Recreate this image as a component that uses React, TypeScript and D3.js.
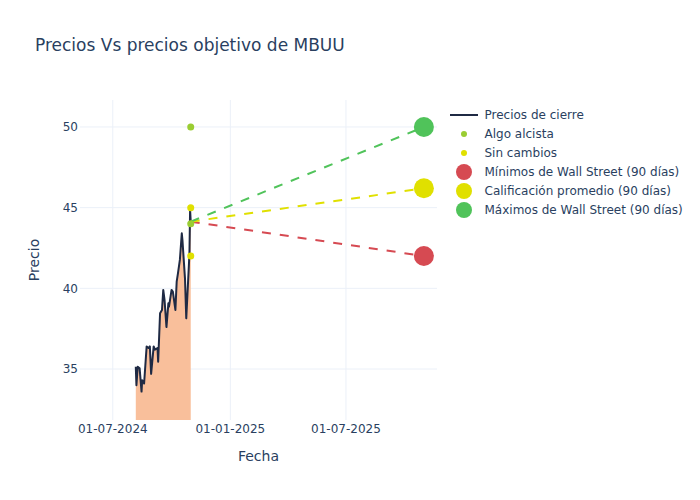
import React from "react";
import * as d3 from "d3";

const closeDates = [
  "2024-08-06", "2024-08-07", "2024-08-09", "2024-08-12", "2024-08-15", "2024-08-16",
  "2024-08-19", "2024-08-23", "2024-08-26", "2024-08-28", "2024-08-30", "2024-09-03",
  "2024-09-05", "2024-09-09", "2024-09-10", "2024-09-13", "2024-09-16", "2024-09-18",
  "2024-09-20", "2024-09-23", "2024-09-26", "2024-09-27", "2024-10-01", "2024-10-03",
  "2024-10-07", "2024-10-09", "2024-10-11", "2024-10-14", "2024-10-17", "2024-10-18",
  "2024-10-22", "2024-10-24", "2024-10-28", "2024-10-29", "2024-10-30", "2024-10-31",
];
const closePrices = [
  35.14, 34.0, 35.14, 35.04, 33.6, 34.3,
  34.1, 36.4, 36.3, 36.4, 34.7, 36.4,
  36.2, 36.3, 35.45, 38.45, 38.66, 39.9,
  39.28, 37.6, 39.07, 38.86, 39.9, 39.8,
  38.66, 40.41, 40.93, 41.76, 43.41, 43.0,
  40.62, 38.14, 41.34, 42.17, 44.86, 44.13,
];

const ratingDate = "2024-10-31";
const algoAlcista = [50, 44];
const sinCambios = [45, 42];

const targetDate = "2025-10-31";
const targetMin = 42;
const targetAvg = 46.2;
const targetMax = 50;

const yTicks = [35, 40, 45, 50];
const xTicks = ["2024-07-01", "2025-01-01", "2025-07-01"];

const legendLabels = [
  "Precios de cierre",
  "Algo alcista",
  "Sin cambios",
  "Mínimos de Wall Street (90 días)",
  "Calificación promedio (90 días)",
  "Máximos de Wall Street (90 días)",
];

const parse = (s: string) => {
  const [y, m, d] = s.split("-").map(Number);
  return new Date(y, m - 1, d);
};

const FONT = "'DejaVu Sans', sans-serif";
const TXT = "#2a3f5f";
const GRID = "#ebf0f8";
const LINE = "#1f2a44";
const FILL = "#f9bf9b";
const C_ALGO = "#9acd32";
const C_SIN = "#e0e000";
const C_RED = "#d64a52";
const C_YEL = "#e0e000";
const C_GRN = "#50c35a";

export default function App() {
  const W = 700, H = 500;
  const L = 80, R = 437, T = 100, B = 420;

  const x = d3
    .scaleTime()
    .domain([new Date(2024, 4, 10, 16), new Date(2025, 10, 20, 12)])
    .range([L, R]);
  const y = d3.scaleLinear().domain([31.84, 51.67]).range([B, T]);

  const pts = closeDates.map((d, i) => ({ d: parse(d), v: closePrices[i] }));
  const line = d3
    .line<{ d: Date; v: number }>()
    .x((p) => x(p.d))
    .y((p) => y(p.v));
  const area = d3
    .area<{ d: Date; v: number }>()
    .x((p) => x(p.d))
    .y0(B)
    .y1((p) => y(p.v));

  const last = pts[pts.length - 1];
  const rd = parse(ratingDate);
  const td = parse(targetDate);
  const targets = [
    { v: targetMin, c: C_RED },
    { v: targetAvg, c: C_YEL },
    { v: targetMax, c: C_GRN },
  ];

  const legendY = (i: number) => 115 + i * 19;

  return (
    <svg width={W} height={H} style={{ position: "absolute", left: 0, top: 0, background: "#fff" }} fontFamily={FONT}>
      <defs>
        <clipPath id="plot">
          <rect x={L} y={T} width={R - L} height={B - T} />
        </clipPath>
      </defs>
      <rect x={0} y={0} width={W} height={H} fill="#fff" />
      {/* grid */}
      {xTicks.map((t) => (
        <line key={t} x1={x(parse(t))} x2={x(parse(t))} y1={T} y2={B} stroke={GRID} strokeWidth={1} />
      ))}
      {yTicks.map((t) => (
        <line key={t} x1={L} x2={R} y1={y(t)} y2={y(t)} stroke={GRID} strokeWidth={1} />
      ))}
      <g clipPath="url(#plot)">
        <path d={area(pts) || ""} fill={FILL} />
        <path d={line(pts) || ""} fill="none" stroke={LINE} strokeWidth={2} strokeLinejoin="round" />
        {targets.map((t, i) => (
          <line
            key={i}
            x1={x(last.d)}
            y1={y(last.v)}
            x2={x(td)}
            y2={y(t.v)}
            stroke={t.c}
            strokeWidth={2}
            strokeDasharray="9,9"
          />
        ))}
        {algoAlcista.map((v, i) => (
          <circle key={"a" + i} cx={x(rd)} cy={y(v)} r={3.5} fill={C_ALGO} />
        ))}
        {sinCambios.map((v, i) => (
          <circle key={"s" + i} cx={x(rd)} cy={y(v)} r={3.5} fill={C_SIN} />
        ))}
        {targets.map((t, i) => (
          <circle key={"t" + i} cx={x(td)} cy={y(t.v)} r={10} fill={t.c} />
        ))}
      </g>
      {/* axes labels */}
      {xTicks.map((t) => (
        <text key={t} x={x(parse(t))} y={433} textAnchor="middle" fontSize={12} fill={TXT}>
          {d3.timeFormat("%d-%m-%Y")(parse(t))}
        </text>
      ))}
      {yTicks.map((t) => (
        <text key={t} x={78} y={y(t) + 4.2} textAnchor="end" fontSize={12} fill={TXT}>
          {t}
        </text>
      ))}
      <text x={(L + R) / 2} y={461} textAnchor="middle" fontSize={14} fill={TXT}>
        Fecha
      </text>
      <text
        transform={`translate(${39},${(T + B) / 2}) rotate(-90)`}
        textAnchor="middle"
        fontSize={14}
        fill={TXT}
      >
        Precio
      </text>
      <text x={35} y={51} fontSize={17} fill={TXT}>
        Precios Vs precios objetivo de MBUU
      </text>
      {/* legend */}
      <g>
        <line x1={450} x2={478} y1={legendY(0)} y2={legendY(0)} stroke={LINE} strokeWidth={2} />
        <circle cx={464} cy={legendY(1)} r={3} fill={C_ALGO} />
        <circle cx={464} cy={legendY(2)} r={3} fill={C_SIN} />
        <circle cx={464} cy={legendY(3)} r={8} fill={C_RED} />
        <circle cx={464} cy={legendY(4)} r={8} fill={C_YEL} />
        <circle cx={464} cy={legendY(5)} r={8} fill={C_GRN} />
        {legendLabels.map((s, i) => (
          <text key={s} x={484.5} y={legendY(i) + 4.3} fontSize={12} fill={TXT}>
            {s}
          </text>
        ))}
      </g>
    </svg>
  );
}
